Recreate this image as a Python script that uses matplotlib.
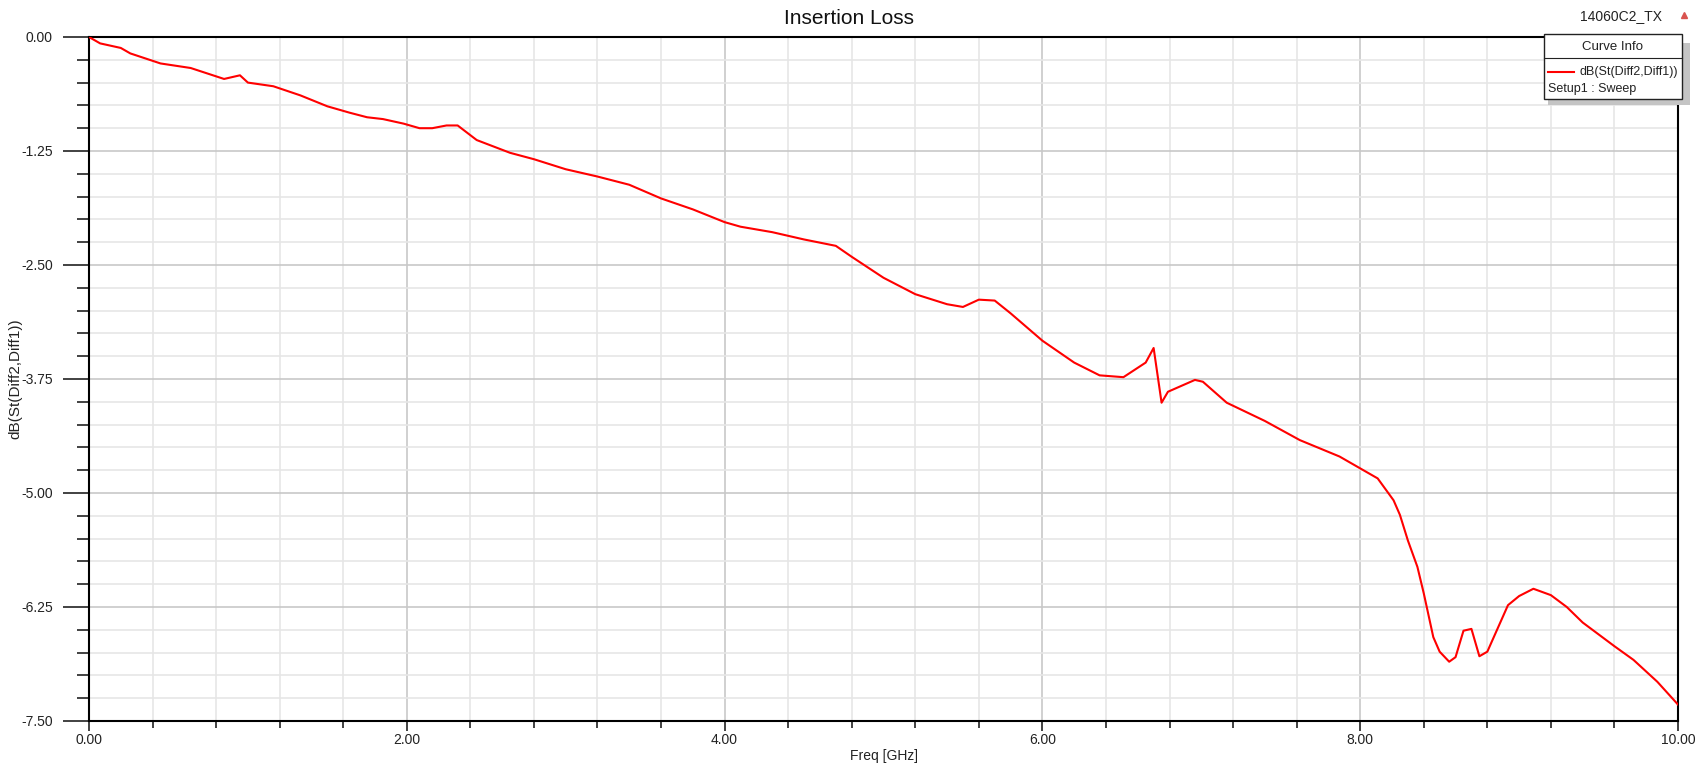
import matplotlib
matplotlib.use("Agg")
from matplotlib import pyplot
from matplotlib.ticker import MultipleLocator, FormatStrFormatter
from matplotlib.patches import Rectangle
from matplotlib.lines import Line2D

freq_ghz = [0.00, 0.07, 0.20, 0.26, 0.45, 0.64, 0.85, 0.95, 1.00, 1.16, 1.33,
            1.50, 1.64, 1.75, 1.85, 1.98, 2.08, 2.16, 2.25, 2.32, 2.44, 2.65,
            2.80, 3.00, 3.20, 3.40, 3.60, 3.80, 4.00, 4.10, 4.30, 4.50, 4.70,
            4.80, 5.00, 5.20, 5.40, 5.50, 5.60, 5.70, 5.80, 6.00, 6.20, 6.36,
            6.51, 6.65, 6.70, 6.75, 6.79, 6.96, 7.01, 7.16, 7.40, 7.62, 7.87,
            8.00, 8.11, 8.21, 8.25, 8.30, 8.36, 8.40, 8.46, 8.50, 8.56, 8.60,
            8.65, 8.70, 8.75, 8.80, 8.93, 9.00, 9.09, 9.20, 9.30, 9.40, 9.60,
            9.72, 9.87, 10.00]
insertion_loss_db = [0.00, -0.07, -0.12, -0.18, -0.29, -0.34, -0.46, -0.42, -0.50, -0.54, -0.64,
                     -0.76, -0.83, -0.88, -0.90, -0.95, -1.00, -1.00, -0.97, -0.97, -1.13, -1.27,
                     -1.34, -1.45, -1.53, -1.62, -1.77, -1.89, -2.03, -2.08, -2.14, -2.22, -2.29,
                     -2.41, -2.64, -2.82, -2.93, -2.96, -2.88, -2.89, -3.03, -3.33, -3.57, -3.71,
                     -3.73, -3.57, -3.41, -4.01, -3.89, -3.76, -3.78, -4.01, -4.21, -4.42, -4.60,
                     -4.73, -4.84, -5.08, -5.24, -5.52, -5.81, -6.10, -6.58, -6.74, -6.85, -6.80,
                     -6.51, -6.49, -6.79, -6.74, -6.23, -6.13, -6.05, -6.12, -6.25, -6.42, -6.68,
                     -6.83, -7.07, -7.32]

title = "Insertion Loss"
design_name = "14060C2_TX"
trace_name = "dB(St(Diff2,Diff1))"
sweep_name = "Setup1 : Sweep"

pyplot.rcParams["font.family"] = ["Liberation Sans", "DejaVu Sans"]

W, H = 1708, 769
fig = pyplot.figure(figsize=(W / 100, H / 100), dpi=100)
ax = fig.add_axes([89 / W, 1 - 721 / H, (1678 - 89) / W, (721 - 37) / H])

ax.plot(freq_ghz, insertion_loss_db, color="#ff0000", lw=1.5, zorder=3)

ax.set_xlim(0, 10)
ax.set_ylim(-7.5, 0)
ax.xaxis.set_major_locator(MultipleLocator(2))
ax.xaxis.set_minor_locator(MultipleLocator(0.4))
ax.yaxis.set_major_locator(MultipleLocator(1.25))
ax.yaxis.set_minor_locator(MultipleLocator(0.25))
ax.xaxis.set_major_formatter(FormatStrFormatter("%.2f"))
ax.yaxis.set_major_formatter(FormatStrFormatter("%.2f"))

ax.grid(which="major", color="#c8c8c8", lw=1.2)
ax.grid(which="minor", color="#e6e6e6", lw=1.2)
ax.set_axisbelow(True)

ax.tick_params(axis="y", which="major", length=19, width=1.3, labelsize=10,
               colors="#333333", labelcolor="#222222", pad=7)
ax.tick_params(axis="y", which="minor", length=9, width=1.3, colors="#333333")
ax.tick_params(axis="x", which="major", length=7, width=1.3, labelsize=10,
               colors="#333333", labelcolor="#222222", pad=2)
ax.tick_params(axis="x", which="minor", length=5, width=1.3, colors="#333333")
for s in ax.spines.values():
    s.set_linewidth(1.5)
    s.set_color("black")

ax.set_xlabel("Freq [GHz]", fontsize=10, color="#222222")
ax.xaxis.label.set_va("center")
ax.set_ylabel(trace_name, fontsize=11, color="#222222")
ax.yaxis.set_label_coords(-(89 - 22) / (1678 - 89), 0.5)
ax.xaxis.set_label_coords((884 - 89) / (1678 - 89), -(756 - 721) / (721 - 37))

fig.text(849 / W, 1 - 18 / H, title, ha="center", va="center", fontsize=15, color="#111111")
fig.text(1621 / W, 1 - 16 / H, design_name, ha="center", va="center", fontsize=10, color="#222222")
fig.add_artist(Line2D([1684 / W], [1 - 15 / H], marker="^", markersize=5,
                      color="#d9534f", transform=fig.transFigure))

# curve info box with shadow
def fx(px):
    return px / W

def fy(py):
    return 1 - py / H

fig.add_artist(Rectangle((fx(1548), fy(105)), fx(1690) - fx(1548), fy(43) - fy(105),
                         transform=fig.transFigure, facecolor="#c4c4c4", edgecolor="none", zorder=5))
fig.add_artist(Rectangle((fx(1544), fy(99)), fx(1682) - fx(1544), fy(34) - fy(99),
                         transform=fig.transFigure, facecolor="white", edgecolor="#222222", lw=1.0, zorder=6))
fig.add_artist(Line2D([fx(1544), fx(1682)], [fy(58), fy(58)], color="#222222", lw=0.8,
                      transform=fig.transFigure, zorder=7))
fig.text(fx(1613), fy(47), "Curve Info", ha="center", va="center", fontsize=9.5, color="#222222", zorder=8)
fig.add_artist(Line2D([fx(1548), fx(1574)], [fy(72), fy(72)], color="#ff0000", lw=1.5,
                      transform=fig.transFigure, zorder=8))
fig.text(fx(1678), fy(72), trace_name, ha="right", va="center", fontsize=9, color="#222222", zorder=8)
fig.text(fx(1548), fy(89), sweep_name, ha="left", va="center", fontsize=9, color="#222222", zorder=8)

fig.savefig("out.png", dpi=100)
